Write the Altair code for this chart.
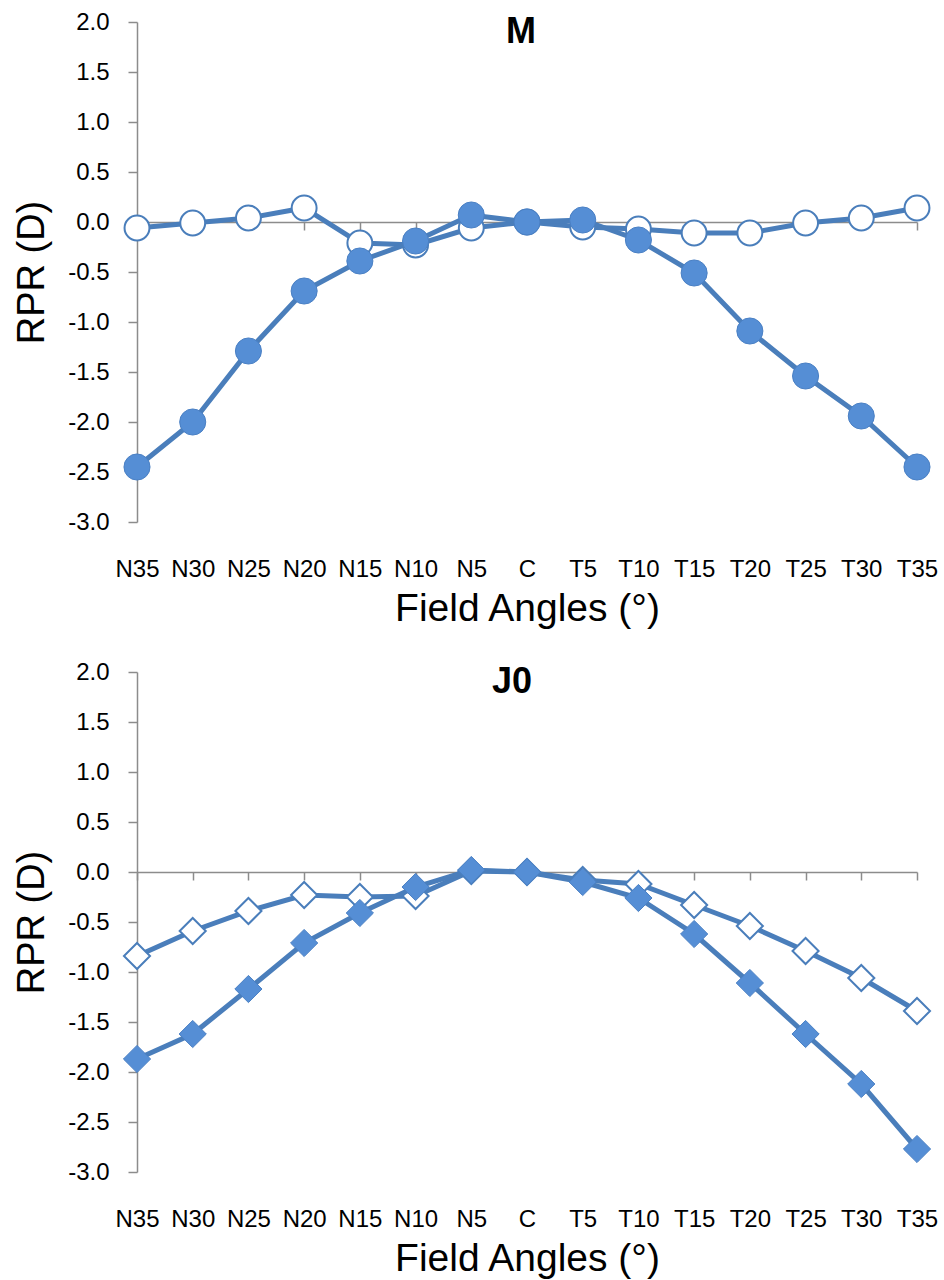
import altair as alt
import pandas as pd

categories = ["N35", "N30", "N25", "N20", "N15", "N10", "N5", "C",
              "T5", "T10", "T15", "T20", "T25", "T30", "T35"]

m_filled = [-2.45, -2.00, -1.29, -0.69, -0.39, -0.19, 0.07, 0.00,
            0.02, -0.18, -0.51, -1.09, -1.54, -1.94, -2.45]
m_open = [-0.06, -0.01, 0.04, 0.14, -0.21, -0.23, -0.06, 0.00,
          -0.05, -0.07, -0.11, -0.11, -0.01, 0.04, 0.14]

j0_filled = [-1.87, -1.62, -1.17, -0.71, -0.41, -0.15, 0.02, 0.00,
             -0.10, -0.26, -0.62, -1.11, -1.62, -2.12, -2.77]
j0_open = [-0.84, -0.59, -0.39, -0.23, -0.25, -0.24, 0.01, 0.00,
           -0.08, -0.12, -0.33, -0.54, -0.79, -1.06, -1.39]

y_ticks = [2.0, 1.5, 1.0, 0.5, 0.0, -0.5, -1.0, -1.5, -2.0, -2.5, -3.0]

LINE = "#4A7EBB"
FILL = "#558ED5"
AXIS = "#8C8C8C"
FONT = "Liberation Sans"


def panel(filled, open_, shape, title, title_x, size):
    df_f = pd.DataFrame({"angle": categories, "rpr": filled})
    df_o = pd.DataFrame({"angle": categories, "rpr": open_})
    x = alt.X(
        "angle:N", sort=categories,
        scale=alt.Scale(type="point", padding=0),
        axis=alt.Axis(
            orient="bottom", offset=-300, domainColor=AXIS, domainWidth=1.5,
            tickColor=AXIS, tickWidth=1.5, tickSize=8,
            labelAngle=0, labelFontSize=24, labelFont=FONT, labelColor="black",
            labelBaseline="alphabetic", labelPadding=346,
            title="Field Angles (°)", titleFontSize=39, titleFont=FONT,
            titleFontWeight="normal", titleColor="black",
            titleBaseline="alphabetic", titleY=398, titleX=390,
            grid=False,
        ),
    )
    y = alt.Y(
        "rpr:Q",
        scale=alt.Scale(domain=[-3, 2], nice=False, zero=False),
        axis=alt.Axis(
            values=y_ticks, labelExpr="replace(format(datum.value, '.1f'), '\u2212', '-')",
            domainColor=AXIS, domainWidth=1.5, tickColor=AXIS, tickWidth=1.5,
            tickSize=9, labelFontSize=24, labelFont=FONT, labelColor="black",
            labelPadding=19, grid=False,
            title="RPR (D)", titleFontSize=38, titleFont=FONT,
            titleFontWeight="normal", titleColor="black",
            titleAngle=270, titleBaseline="alphabetic", titleX=-94, titleY=250,
        ),
    )
    line_o = alt.Chart(df_o).mark_line(color=LINE, strokeWidth=5).encode(x=x, y=y)
    pts_o = alt.Chart(df_o).mark_point(
        shape=shape, size=size, filled=True, fill="white", stroke=LINE,
        strokeWidth=2, opacity=1,
    ).encode(x=x, y=y)
    line_f = alt.Chart(df_f).mark_line(color=LINE, strokeWidth=5).encode(x=x, y=y)
    pts_f = alt.Chart(df_f).mark_point(
        shape=shape, size=size + 60, filled=True, fill=FILL, stroke="#4A80C4",
        strokeWidth=1, opacity=1,
    ).encode(x=x, y=y)
    ttl = alt.Chart(pd.DataFrame({"t": [title]})).mark_text(
        font=FONT, fontSize=36, fontWeight="bold", color="black",
        align="center", baseline="alphabetic",
    ).encode(text="t:N", x=alt.value(title_x), y=alt.value(21))
    return alt.layer(line_o, pts_o, line_f, pts_f, ttl).properties(width=780, height=500)


top = panel(m_filled, m_open, "circle", "M", 384, 620)
bottom = panel(j0_filled, j0_open, "diamond", "J0", 375, 680)

chart = alt.vconcat(top, bottom, spacing=150, bounds="flush").properties(
    padding={"left": 13, "top": 10, "right": 5, "bottom": 5},
    background="white",
).configure_view(stroke=None)

chart.save("out.html", embed_options={"renderer": "svg", "actions": False})
